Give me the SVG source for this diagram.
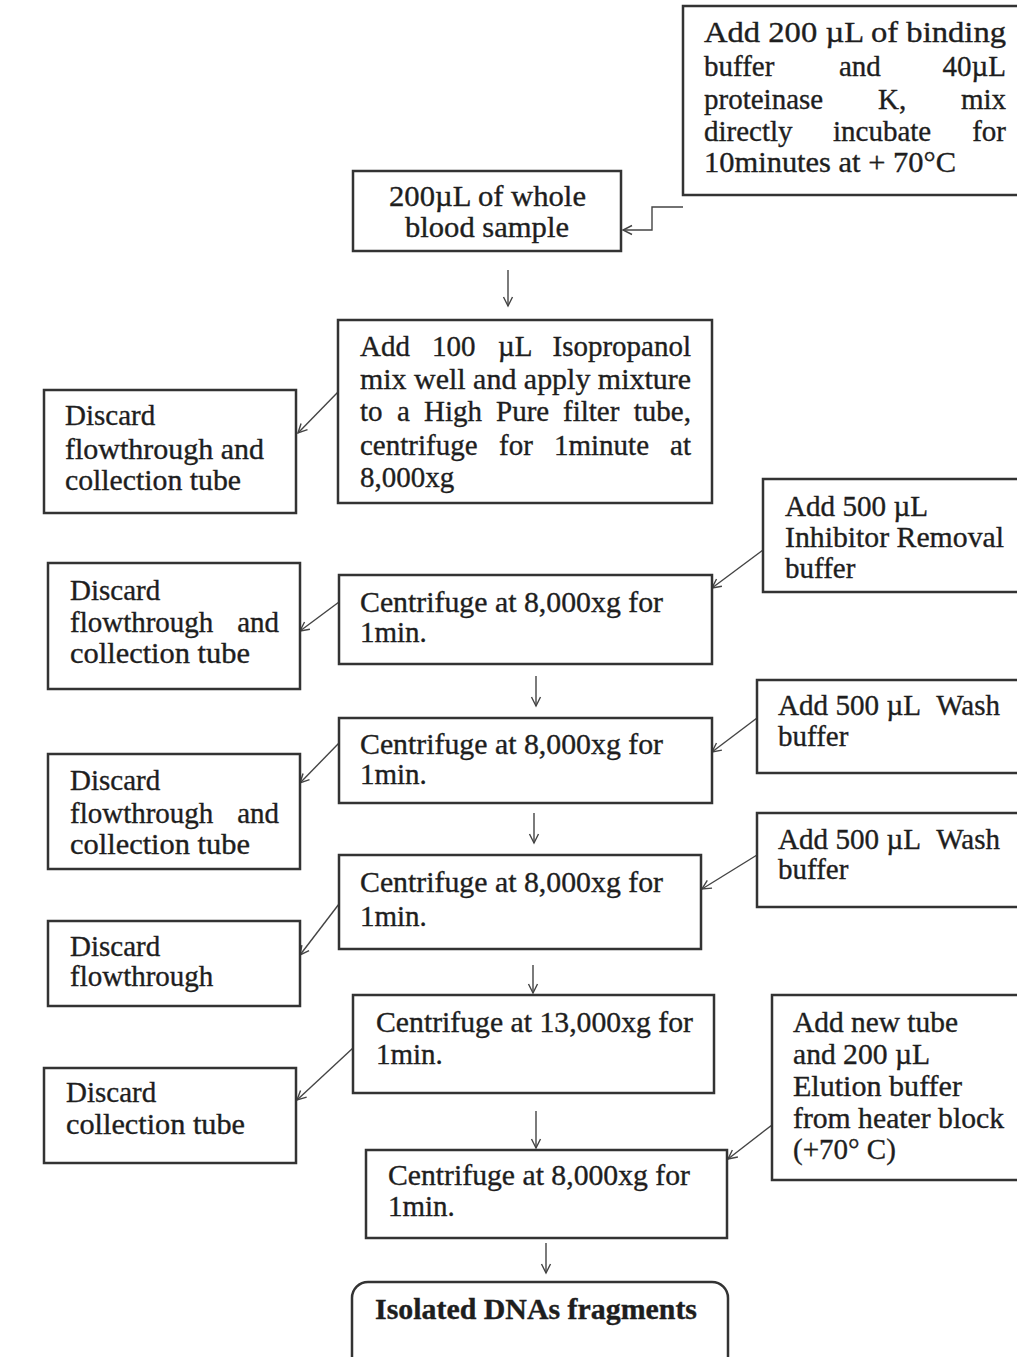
<svg xmlns="http://www.w3.org/2000/svg" width="1017" height="1357" viewBox="0 0 1017 1357">
<defs>
<style>
.box{fill:#fff;stroke:#333;stroke-width:2.5}
.t{font-family:"Liberation Serif","Times New Roman",serif;font-size:29px;fill:#1e1e1e;stroke:#1e1e1e;stroke-width:0.35}
.b{font-weight:bold}
.c{stroke:#444;stroke-width:1.4;fill:none;marker-end:url(#ah)}
</style>
<marker id="ah" markerWidth="12" markerHeight="12" refX="10" refY="6" orient="auto" markerUnits="userSpaceOnUse">
<path d="M1,1.5 L10,6 L1,10.5" fill="none" stroke="#444" stroke-width="1.4"/>
</marker>
</defs>
<rect width="1017" height="1357" fill="#fff"/>

<g id="connectors">
<path class="c" d="M683,207 H652 V230 H623"/>
<path class="c" d="M508,270 V306"/>
<path class="c" d="M338,392 L298,433"/>
<path class="c" d="M763,550 L712,588"/>
<path class="c" d="M339,602 L300,631"/>
<path class="c" d="M536,676 V706"/>
<path class="c" d="M757,718 L712,752"/>
<path class="c" d="M339,743 L300,783"/>
<path class="c" d="M534,813 V843"/>
<path class="c" d="M757,855 L702,889"/>
<path class="c" d="M339,904 L300,955"/>
<path class="c" d="M533,965 V993"/>
<path class="c" d="M353,1048 L297,1100"/>
<path class="c" d="M536,1111 V1148"/>
<path class="c" d="M772,1125 L728,1159"/>
<path class="c" d="M546,1243 V1273"/>
</g>

<g id="nodeA">
<rect class="box" x="683" y="6" width="345" height="189"/>
<text class="t"><tspan x="704" y="42" textLength="302" lengthAdjust="spacingAndGlyphs">Add 200 µL of binding</tspan></text>
<text class="t" y="76"><tspan x="704">buffer</tspan><tspan x="839">and</tspan><tspan x="1006" text-anchor="end">40µL</tspan></text>
<text class="t" y="109"><tspan x="704">proteinase</tspan><tspan x="878">K,</tspan><tspan x="1006" text-anchor="end">mix</tspan></text>
<text class="t" y="141"><tspan x="704">directly</tspan><tspan x="833">incubate</tspan><tspan x="1006" text-anchor="end">for</tspan></text>
<text class="t"><tspan x="704" y="172" textLength="252" lengthAdjust="spacingAndGlyphs">10minutes at + 70°C</tspan></text>
</g>

<g id="nodeB">
<rect class="box" x="353" y="171" width="268" height="80"/>
<text class="t"><tspan x="389" y="206" textLength="197" lengthAdjust="spacingAndGlyphs">200µL of whole</tspan><tspan x="405" y="237" textLength="164" lengthAdjust="spacingAndGlyphs">blood sample</tspan></text>
</g>

<g id="nodeC">
<rect class="box" x="338" y="320" width="374" height="183"/>
<text class="t" y="356"><tspan x="360">Add</tspan><tspan x="432">100</tspan><tspan x="498">µL</tspan><tspan x="691" text-anchor="end">Isopropanol</tspan></text>
<text class="t"><tspan x="360" y="389" textLength="331" lengthAdjust="spacingAndGlyphs">mix well and apply mixture</tspan></text>
<text class="t" y="421"><tspan x="360">to</tspan><tspan x="397">a</tspan><tspan x="424">High</tspan><tspan x="496">Pure</tspan><tspan x="563">filter</tspan><tspan x="691" text-anchor="end">tube,</tspan></text>
<text class="t" y="455"><tspan x="360">centrifuge</tspan><tspan x="499">for</tspan><tspan x="554">1minute</tspan><tspan x="691" text-anchor="end">at</tspan></text>
<text class="t"><tspan x="360" y="487">8,000xg</tspan></text>
</g>

<g id="nodeD1">
<rect class="box" x="44" y="390" width="252" height="123"/>
<text class="t"><tspan x="65" y="425">Discard</tspan><tspan x="65" y="459" textLength="199" lengthAdjust="spacingAndGlyphs">flowthrough and</tspan><tspan x="65" y="490" textLength="176" lengthAdjust="spacingAndGlyphs">collection tube</tspan></text>
</g>

<g id="nodeE1">
<rect class="box" x="763" y="479" width="270" height="113"/>
<text class="t"><tspan x="785" y="516" textLength="143" lengthAdjust="spacingAndGlyphs">Add 500 µL</tspan><tspan x="785" y="547" textLength="219" lengthAdjust="spacingAndGlyphs">Inhibitor Removal</tspan><tspan x="785" y="578">buffer</tspan></text>
</g>

<g id="nodeF1">
<rect class="box" x="339" y="575" width="373" height="89"/>
<text class="t"><tspan x="360" y="612" textLength="303" lengthAdjust="spacingAndGlyphs">Centrifuge at 8,000xg for</tspan><tspan x="360" y="642">1min.</tspan></text>
</g>

<g id="nodeD2">
<rect class="box" x="48" y="563" width="252" height="126"/>
<text class="t"><tspan x="70" y="600">Discard</tspan></text>
<text class="t" y="632"><tspan x="70">flowthrough</tspan><tspan x="279" text-anchor="end">and</tspan></text>
<text class="t"><tspan x="70" y="663" textLength="180" lengthAdjust="spacingAndGlyphs">collection tube</tspan></text>
</g>

<g id="nodeF2">
<rect class="box" x="339" y="718" width="373" height="85"/>
<text class="t"><tspan x="360" y="754" textLength="303" lengthAdjust="spacingAndGlyphs">Centrifuge at 8,000xg for</tspan><tspan x="360" y="784">1min.</tspan></text>
</g>

<g id="nodeE2">
<rect class="box" x="757" y="680" width="275" height="93"/>
<text class="t"><tspan x="778" y="715" textLength="143" lengthAdjust="spacingAndGlyphs">Add 500 µL</tspan><tspan x="1000" y="715" text-anchor="end">Wash</tspan><tspan x="778" y="746">buffer</tspan></text>
</g>

<g id="nodeD3">
<rect class="box" x="48" y="754" width="252" height="115"/>
<text class="t"><tspan x="70" y="790">Discard</tspan></text>
<text class="t" y="823"><tspan x="70">flowthrough</tspan><tspan x="279" text-anchor="end">and</tspan></text>
<text class="t"><tspan x="70" y="854" textLength="180" lengthAdjust="spacingAndGlyphs">collection tube</tspan></text>
</g>

<g id="nodeF3">
<rect class="box" x="339" y="855" width="362" height="94"/>
<text class="t"><tspan x="360" y="892" textLength="303" lengthAdjust="spacingAndGlyphs">Centrifuge at 8,000xg for</tspan><tspan x="360" y="926">1min.</tspan></text>
</g>

<g id="nodeE3">
<rect class="box" x="757" y="813" width="275" height="94"/>
<text class="t"><tspan x="778" y="849" textLength="143" lengthAdjust="spacingAndGlyphs">Add 500 µL</tspan><tspan x="1000" y="849" text-anchor="end">Wash</tspan><tspan x="778" y="879">buffer</tspan></text>
</g>

<g id="nodeD4">
<rect class="box" x="48" y="921" width="252" height="85"/>
<text class="t"><tspan x="70" y="956">Discard</tspan><tspan x="70" y="986">flowthrough</tspan></text>
</g>

<g id="nodeF4">
<rect class="box" x="353" y="995" width="361" height="98"/>
<text class="t"><tspan x="376" y="1032" textLength="317" lengthAdjust="spacingAndGlyphs">Centrifuge at 13,000xg for</tspan><tspan x="376" y="1064">1min.</tspan></text>
</g>

<g id="nodeD5">
<rect class="box" x="44" y="1068" width="252" height="95"/>
<text class="t"><tspan x="66" y="1102">Discard</tspan><tspan x="66" y="1134" textLength="179" lengthAdjust="spacingAndGlyphs">collection tube</tspan></text>
</g>

<g id="nodeE4">
<rect class="box" x="772" y="995" width="260" height="185"/>
<text class="t"><tspan x="793" y="1032" textLength="165" lengthAdjust="spacingAndGlyphs">Add new tube</tspan><tspan x="793" y="1064" textLength="137" lengthAdjust="spacingAndGlyphs">and 200 µL</tspan><tspan x="793" y="1096" textLength="169" lengthAdjust="spacingAndGlyphs">Elution buffer</tspan><tspan x="793" y="1128" textLength="211" lengthAdjust="spacingAndGlyphs">from heater block</tspan><tspan x="793" y="1159">(+70° C)</tspan></text>
</g>

<g id="nodeF5">
<rect class="box" x="366" y="1150" width="361" height="88"/>
<text class="t"><tspan x="388" y="1185" textLength="302" lengthAdjust="spacingAndGlyphs">Centrifuge at 8,000xg for</tspan><tspan x="388" y="1216">1min.</tspan></text>
</g>

<g id="nodeG">
<rect class="box" x="352" y="1282" width="376" height="100" rx="16" ry="16"/>
<text class="t b" text-anchor="middle"><tspan x="536" y="1319" textLength="322" lengthAdjust="spacingAndGlyphs">Isolated DNAs fragments</tspan></text>
</g>
</svg>
